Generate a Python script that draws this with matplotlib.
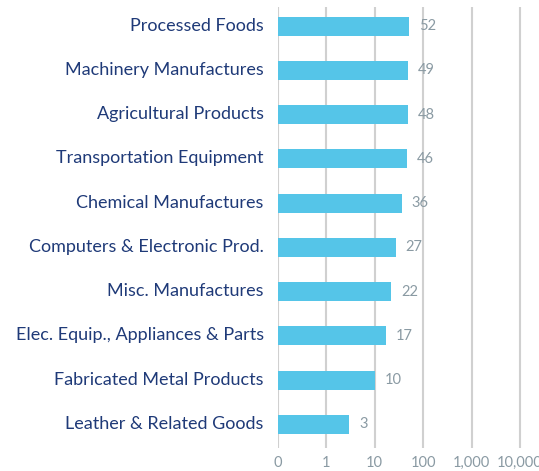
import numpy as np
import matplotlib.pyplot as plt
import matplotlib.transforms as mtransforms

categories = ["Processed Foods", "Machinery Manufactures", "Agricultural Products",
              "Transportation Equipment", "Chemical Manufactures",
              "Computers & Electronic Prod.", "Misc. Manufactures",
              "Elec. Equip., Appliances & Parts", "Fabricated Metal Products",
              "Leather & Related Goods"]
values = [52, 49, 48, 46, 36, 27, 22, 17, 10, 3]
ticks = [0, 1, 10, 100, 1000, 10000]
tick_labels = ["0", "1", "10", "100", "1,000", "10,000"]

plt.rcParams['font.family'] = ['Lato', 'DejaVu Sans']

fig = plt.figure(figsize=(5.39, 4.71), dpi=100)
ax = fig.add_axes([0.515, 0.049, 0.485, 0.936])

y = np.arange(len(categories))
ax.barh(y, values, height=0.43, color="#55c5e8", zorder=2)

# symlog: 0..1 linear, one decade per grid step after that
ax.set_xscale("symlog", linthresh=1, linscale=0.9)
ax.set_xlim(0, 24500)
ax.set_ylim(9.53, -0.43)

ax.set_xticks(ticks)
ax.set_xticklabels(tick_labels, fontsize=10.5, color="#8a9aa3")
ax.xaxis.set_minor_locator(plt.NullLocator())
ax.set_yticks(y)
ax.set_yticklabels(categories, fontsize=13, color="#1f3a78")
ax.tick_params(axis="both", length=0)
ax.tick_params(axis="y", pad=10)
ax.tick_params(axis="x", pad=6)

# category labels sit a touch above the bar centre
shift = mtransforms.ScaledTranslation(0, 2 / 100, fig.dpi_scale_trans)
for lbl in ax.get_yticklabels():
    lbl.set_transform(lbl.get_transform() + shift)

for s in ax.spines.values():
    s.set_visible(False)
ax.grid(axis="x", color="#d0d0d0", linewidth=1.5, zorder=0)
ax.set_axisbelow(True)

for yi, v in zip(y, values):
    ax.annotate(str(v), (v, yi), xytext=(7, 0), textcoords="offset points",
                va="center", ha="left", fontsize=10.5, color="#8a9aa3", zorder=3)

plt.savefig("out.png", dpi=100)
